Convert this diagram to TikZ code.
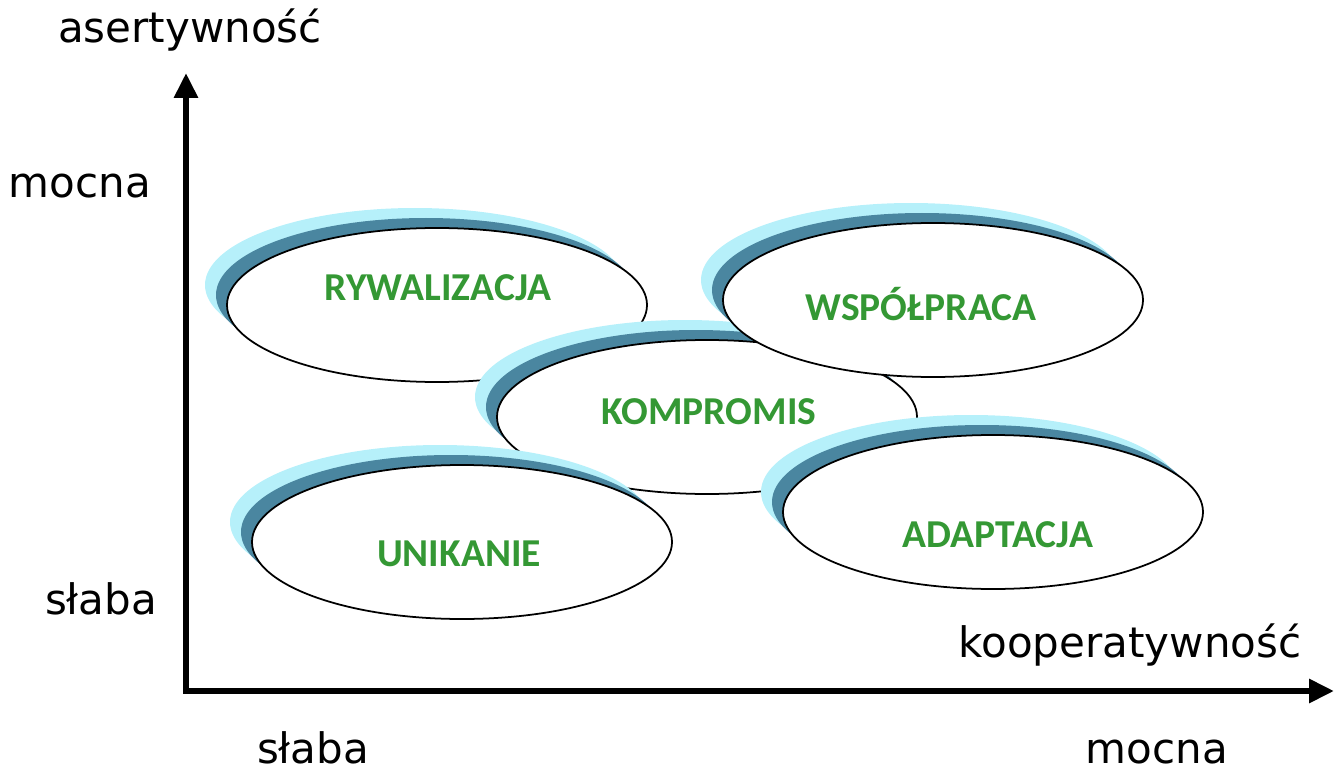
\documentclass[tikz,border=0pt]{standalone}
\usepackage{fontspec}
\setmainfont{DejaVu Sans}
\newfontfamily\modefont{Carlito}
\usetikzlibrary{arrows.meta,shapes.geometric}
\usetikzlibrary{positioning}

\definecolor{skyrim}{RGB}{182,240,250}
\definecolor{steelrim}{RGB}{74,134,160}
\definecolor{modegreen}{RGB}{52,152,52}

\tikzset{
  bubble/.style={ellipse, draw=black, line width=1pt, fill=white,
    minimum width=8.4cm, minimum height=3.08cm, inner sep=0pt,
    preaction={fill=skyrim, draw=none, transform canvas={shift={(-0.44,0.4)}}},
    preaction={fill=steelrim, draw=none, transform canvas={shift={(-0.22,0.2)}}}},
  modetext/.style={font=\modefont\bfseries\fontsize{22.5}{26}\selectfont, text=modegreen, inner sep=0pt},
  axislabel/.style={font=\fontsize{23.9}{28}\selectfont, anchor=base, inner sep=0pt},
  axis/.style={line width=3.4pt, {Triangle[length=0.5cm,width=0.46cm]}-{Triangle[length=0.5cm,width=0.46cm]}}
}

\begin{document}
\begin{tikzpicture}
		\useasboundingbox (0,0) rectangle (26.7,15.46);
		% axes
		\coordinate (origin) at (3.72,1.64);
		\coordinate (ytop) at (3.72,14.0);
		\coordinate (xend) at (26.68,1.64);
		\draw[axis] (ytop) -- (origin) -- (xend); %% assertiveness and cooperativeness
		\node[axislabel] (assert) at (3.8,14.6) {asertywność};
		\node[axislabel] (ystrong) at (1.6,11.52) {mocna};
		\node[axislabel] (yweak) at (2.02,3.18) {słaba};
		\node[axislabel] (coop) at (22.6,2.32) {kooperatywność};
		\node[axislabel] (xweak) at (6.26,0.2) {słaba};
		\node[axislabel] (xstrong) at (23.14,0.2) {mocna};
		% conflict styles
		\node[bubble] (ryw) at (8.74,9.36) {}; %% competing
		\node[modetext] (rywalizacja) at ([shift={(0.02,0.34)}]ryw.center) {RYWALIZACJA};
		\node[bubble] (komp) at (14.14,7.12) {}; %% compromise
		\node[modetext] (kompromis) at ([shift={(0.04,0.1)}]komp.center) {KOMPROMIS};
		\node[bubble] (wsp) at (18.66,9.46) {}; %% collaborating
		\node[modetext] (wspolpraca) at ([shift={(-0.24,-0.08)}]wsp.center) {WSPÓŁPRACA};
		\node[bubble] (unik) at (9.24,4.62) {}; %% avoiding
		\node[modetext] (unikanie) at ([shift={(-0.06,-0.24)}]unik.center) {UNIKANIE};
		\node[bubble] (adap) at (19.86,5.22) {}; %% accommodating
		\node[modetext] (adaptacja) at ([shift={(0.1,-0.46)}]adap.center) {ADAPTACJA};
	\end{tikzpicture}
\end{document}
